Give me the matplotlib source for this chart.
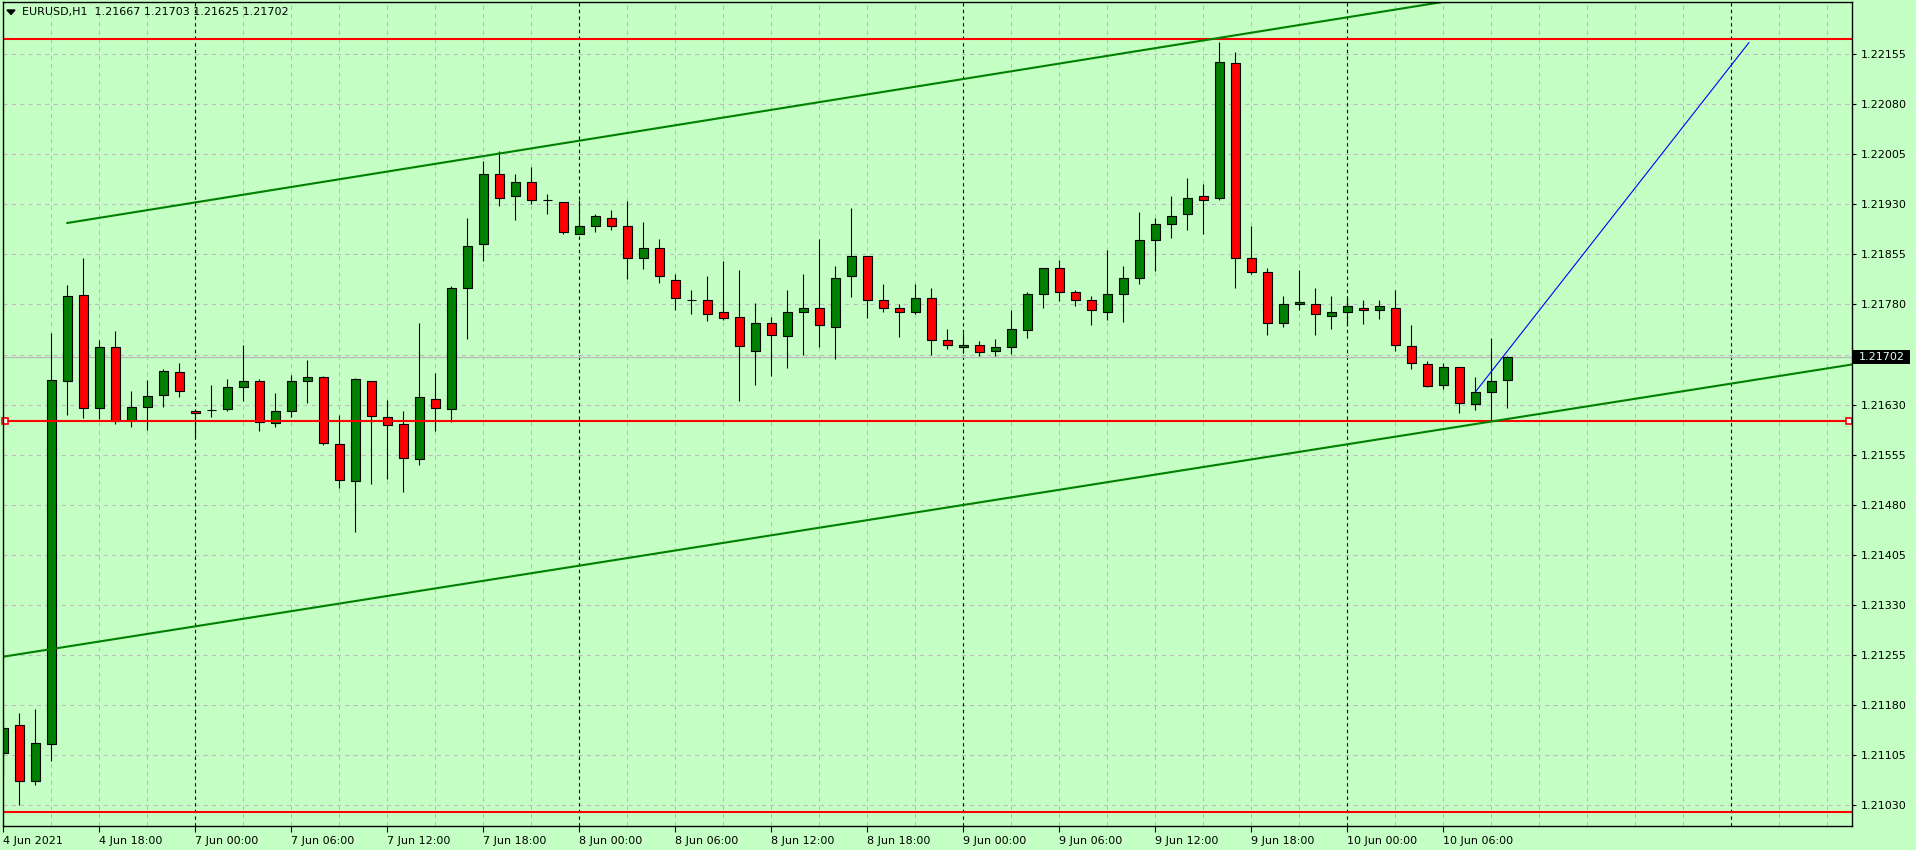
import matplotlib.pyplot as plt
from matplotlib.patches import Polygon, Rectangle
import matplotlib.transforms as mtransforms

# EURUSD H1, one candle per hour starting 4 Jun 2021 12:00
opens = [1.21109, 1.21151, 1.21067, 1.21122, 1.21666, 1.21794, 1.21625, 1.21716, 1.21607, 1.21626,
         1.21645, 1.21679, 1.21620, 1.21622, 1.21623, 1.21657, 1.21666, 1.21602, 1.21620, 1.21666,
         1.21671, 1.21571, 1.21516, 1.21666, 1.21611, 1.21601, 1.21549, 1.21638, 1.21623, 1.21805,
         1.21870, 1.21976, 1.21943, 1.21963, 1.21936, 1.21934, 1.21886, 1.21898, 1.21910, 1.21898,
         1.21850, 1.21865, 1.21817, 1.21786, 1.21786, 1.21768, 1.21762, 1.21711, 1.21753, 1.21733,
         1.21768, 1.21775, 1.21747, 1.21823, 1.21853, 1.21786, 1.21774, 1.21768, 1.21789, 1.21727,
         1.21717, 1.21720, 1.21711, 1.21717, 1.21742, 1.21795, 1.21834, 1.21798, 1.21787, 1.21768,
         1.21796, 1.21820, 1.21877, 1.21901, 1.21916, 1.21943, 1.21939, 1.22141, 1.21850, 1.21829,
         1.21753, 1.21780, 1.21780, 1.21763, 1.21768, 1.21774, 1.21771, 1.21775, 1.21718, 1.21691,
         1.21659, 1.21687, 1.21631, 1.21649, 1.21667]
highs = [1.21161, 1.21169, 1.21175, 1.21738, 1.21809, 1.21849, 1.21727, 1.21741, 1.21650, 1.21667,
         1.21684, 1.21693, 1.21624, 1.21660, 1.21669, 1.21720, 1.21669, 1.21648, 1.21675, 1.21697,
         1.21673, 1.21615, 1.21670, 1.21666, 1.21637, 1.21620, 1.21752, 1.21678, 1.21807, 1.21910,
         1.21995, 1.22010, 1.21976, 1.21986, 1.21946, 1.21934, 1.21936, 1.21916, 1.21921, 1.21935,
         1.21903, 1.21878, 1.21825, 1.21802, 1.21823, 1.21845, 1.21831, 1.21782, 1.21762, 1.21801,
         1.21826, 1.21878, 1.21838, 1.21924, 1.21853, 1.21811, 1.21781, 1.21811, 1.21804, 1.21744,
         1.21738, 1.21726, 1.21729, 1.21771, 1.21798, 1.21835, 1.21847, 1.21801, 1.21793, 1.21862,
         1.21838, 1.21919, 1.21909, 1.21943, 1.21969, 1.21960, 1.22173, 1.22158, 1.21898, 1.21835,
         1.21792, 1.21832, 1.21804, 1.21792, 1.21792, 1.21786, 1.21787, 1.21802, 1.21750, 1.21696,
         1.21692, 1.21687, 1.21672, 1.21730, 1.21703]
lows = [1.21076, 1.21030, 1.21060, 1.21097, 1.21614, 1.21610, 1.21608, 1.21601, 1.21597, 1.21592,
        1.21627, 1.21641, 1.21581, 1.21611, 1.21620, 1.21636, 1.21591, 1.21597, 1.21612, 1.21633,
        1.21569, 1.21506, 1.21439, 1.21512, 1.21518, 1.21499, 1.21540, 1.21591, 1.21604, 1.21728,
        1.21845, 1.21928, 1.21907, 1.21931, 1.21916, 1.21885, 1.21885, 1.21889, 1.21892, 1.21818,
        1.21833, 1.21812, 1.21772, 1.21766, 1.21755, 1.21757, 1.21635, 1.21659, 1.21673, 1.21685,
        1.21705, 1.21717, 1.21699, 1.21791, 1.21760, 1.21768, 1.21731, 1.21765, 1.21705, 1.21713,
        1.21708, 1.21703, 1.21703, 1.21706, 1.21730, 1.21774, 1.21785, 1.21778, 1.21750, 1.21757,
        1.21754, 1.21810, 1.21830, 1.21879, 1.21891, 1.21886, 1.21937, 1.21805, 1.21825, 1.21735,
        1.21747, 1.21771, 1.21735, 1.21744, 1.21750, 1.21751, 1.21759, 1.21711, 1.21683, 1.21656,
        1.21653, 1.21617, 1.21622, 1.21606, 1.21625]
closes = [1.21146, 1.21067, 1.21124, 1.21667, 1.21793, 1.21625, 1.21716, 1.21605, 1.21626, 1.21643,
          1.21681, 1.21651, 1.21617, 1.21622, 1.21656, 1.21666, 1.21604, 1.21620, 1.21666, 1.21671,
          1.21572, 1.21517, 1.21668, 1.21613, 1.21600, 1.21550, 1.21641, 1.21625, 1.21805, 1.21868,
          1.21976, 1.21940, 1.21963, 1.21937, 1.21936, 1.21888, 1.21897, 1.21912, 1.21898, 1.21850,
          1.21865, 1.21823, 1.21789, 1.21786, 1.21765, 1.21760, 1.21718, 1.21753, 1.21735, 1.21768,
          1.21774, 1.21750, 1.21820, 1.21853, 1.21786, 1.21774, 1.21768, 1.21790, 1.21727, 1.21720,
          1.21720, 1.21709, 1.21717, 1.21744, 1.21795, 1.21834, 1.21799, 1.21787, 1.21772, 1.21795,
          1.21820, 1.21876, 1.21901, 1.21913, 1.21940, 1.21937, 1.22143, 1.21850, 1.21829, 1.21753,
          1.21781, 1.21783, 1.21766, 1.21769, 1.21778, 1.21771, 1.21777, 1.21720, 1.21693, 1.21658,
          1.21686, 1.21633, 1.21649, 1.21666, 1.21702]

time_labels = ["4 Jun 2021", "4 Jun 18:00", "7 Jun 00:00", "7 Jun 06:00", "7 Jun 12:00",
               "7 Jun 18:00", "8 Jun 00:00", "8 Jun 06:00", "8 Jun 12:00", "8 Jun 18:00",
               "9 Jun 00:00", "9 Jun 06:00", "9 Jun 12:00", "9 Jun 18:00", "10 Jun 00:00",
               "10 Jun 06:00"]
price_ticks = [1.21030, 1.21105, 1.21180, 1.21255, 1.21330, 1.21405, 1.21480, 1.21555,
               1.21630, 1.21705, 1.21780, 1.21855, 1.21930, 1.22005, 1.22080, 1.22155]

# objects drawn on the chart
levels = [1.22178, 1.21605, 1.21020]
channel_top = [(4, 1.21902), (90, 1.22233)]
channel_bottom = [(-0.2, 1.21252), (115.5, 1.21690)]
blue_line = [(92, 1.21649), (109.1, 1.22172)]
last_price = 1.21702
header = "EURUSD,H1  1.21667 1.21703 1.21625 1.21702"

bg = "#c4ffc4"
grid_c = "#c4b6c4"
W, H = 1916, 850

fig = plt.figure(figsize=(19.16, 8.5), dpi=100, facecolor=bg)
ax = fig.add_axes([2.5 / W, 24 / H, 1849.8 / W, 824 / H], facecolor=bg)
n = len(opens)
ax.set_xlim(-0.05, 115.56)
ax.set_ylim(1.209993, 1.222328)

# grid + day separators
for gx in range(0, 116, 3):
    if gx % 24 == 12:
        ax.axvline(gx, color="black", lw=0.8, ls=(0, (3, 3)), zorder=1)
    else:
        ax.axvline(gx, color=grid_c, lw=0.75, ls=(0, (4, 4)), zorder=0)
for p in price_ticks:
    ax.axhline(p, color=grid_c, lw=0.75, ls=(0, (4, 4)), zorder=0)

# bid line
ax.axhline(last_price, color="#b8b8b8", lw=0.9, zorder=1.5)

# candles
xs = list(range(n))
ax.vlines(xs, lows, highs, color="black", lw=0.8, zorder=3)
bottoms = [min(o, c) for o, c in zip(opens, closes)]
heights = [abs(c - o) for o, c in zip(opens, closes)]
colors = ["#008000" if c >= o else "#ff0000" for o, c in zip(opens, closes)]
ax.bar(xs, heights, bottom=bottoms, width=0.57, color=colors,
       edgecolor="black", linewidth=0.8, zorder=4)

# horizontal levels
for lv in levels:
    ax.axhline(lv, color="#ff0000", lw=1.5, zorder=5)
ax.plot([0.12, 115.35], [levels[1], levels[1]], "s", ms=4, mfc="white",
        mec="#ff0000", mew=1.2, zorder=6, clip_on=False)

# channel lines
(x1, y1), (x2, y2) = channel_top
k = (y2 - y1) / (x2 - x1)
ax.plot([x1, 116], [y1, y1 + k * (116 - x1)], color="#008000", lw=1.5, zorder=5)
ax.plot([p[0] for p in channel_bottom], [p[1] for p in channel_bottom],
        color="#008000", lw=1.5, zorder=5)
ax.plot([p[0] for p in blue_line], [p[1] for p in blue_line],
        color="#0000ff", lw=0.8, zorder=5)

# axes
for s in ["top", "left", "right", "bottom"]:
    ax.spines[s].set_linewidth(1.0)
    ax.spines[s].set_color("black")
    ax.spines[s].set_zorder(7)

ax.yaxis.tick_right()
ax.set_yticks(price_ticks)
ax.set_yticklabels(["" if abs(p - 1.21705) < 1e-7 else "%.5f" % p for p in price_ticks])
ax.tick_params(axis="y", direction="out", length=3, width=0.8, pad=3,
               labelsize=8, colors="black")
ax.set_xticks(range(0, 6 * len(time_labels), 6))
ax.set_xticklabels(time_labels)
for lbl in ax.get_xticklabels():
    lbl.set_ha("left")
ax.tick_params(axis="x", direction="out", length=4, width=0.8, pad=3,
               labelsize=8, colors="black")

# current price tag on the scale
trans = mtransforms.blended_transform_factory(ax.transAxes, ax.transData)
half = 7 * (1.222328 - 1.209993) / 824
ax.add_patch(Rectangle((1.0005, last_price - half), 57 / 1849.8, 2 * half,
                       transform=trans, facecolor="black", edgecolor="none",
                       clip_on=False, zorder=9))
ax.annotate("1.21702", xy=(1.0, last_price), xycoords=trans,
            xytext=(4.6, -0.3), textcoords="offset points", ha="left", va="center",
            fontsize=8, color="#dcfff0", zorder=10, annotation_clip=False)

# header
fig.add_artist(Polygon([(7 / W, 1 - 10 / H), (15 / W, 1 - 10 / H), (11 / W, 1 - 14.5 / H)],
                       closed=True, color="black", transform=fig.transFigure))
fig.text(21.5 / W, 1 - 12.5 / H, header, fontsize=8, color="black", va="center", ha="left")

fig.savefig("out.png", dpi=100, facecolor=bg)
